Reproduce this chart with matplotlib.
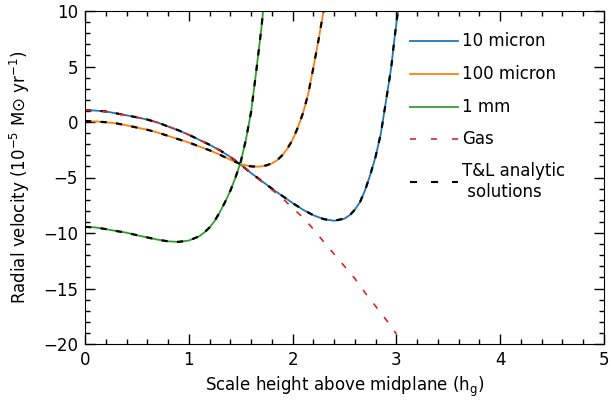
import matplotlib
matplotlib.use('Agg')
import matplotlib.pyplot as plt
from matplotlib.lines import Line2D
import numpy as np

# values
x_10um = [0, 0.1, 0.2, 0.3, 0.4, 0.5, 0.6, 0.7, 0.8, 0.9, 1.0, 1.1, 1.2, 1.3, 1.4, 1.5, 1.6, 1.7,
          1.8, 1.9, 2.0, 2.1, 2.2, 2.3, 2.4, 2.5, 2.55, 2.6, 2.65, 2.7, 2.75, 2.8, 2.85, 2.9, 2.95,
          2.98, 3.0, 3.02]
v_10um = [1.05, 1.03, 0.95, 0.78, 0.6, 0.42, 0.22, -0.05, -0.4, -0.75, -1.15, -1.6, -2.05, -2.55,
          -3.15, -3.85, -4.6, -5.3, -6.0, -6.65, -7.3, -7.9, -8.4, -8.75, -8.9, -8.7, -8.4, -7.9,
          -7.2, -6.1, -4.7, -3.1, -1.05, 1.9, 4.9, 7.4, 8.9, 10.4]

x_100um = [0, 0.1, 0.2, 0.3, 0.4, 0.5, 0.6, 0.7, 0.8, 0.9, 1.0, 1.1, 1.2, 1.3, 1.4, 1.5, 1.6, 1.65,
           1.7, 1.75, 1.8, 1.85, 1.9, 1.95, 2.0, 2.05, 2.1, 2.15, 2.2, 2.25, 2.3]
v_100um = [0.08, 0.05, -0.02, -0.12, -0.3, -0.5, -0.7, -0.95, -1.25, -1.55, -1.85, -2.2, -2.55,
           -2.95, -3.4, -3.8, -4.0, -4.02, -4.0, -3.9, -3.73, -3.45, -3.0, -2.4, -1.6, -0.5, 0.8,
           2.5, 4.9, 7.4, 10.1]

x_1mm = [0, 0.1, 0.2, 0.3, 0.4, 0.5, 0.6, 0.7, 0.8, 0.9, 1.0, 1.1, 1.15, 1.2, 1.25, 1.3, 1.35,
         1.4, 1.45, 1.5, 1.55, 1.6, 1.65, 1.7, 1.72]
v_1mm = [-9.45, -9.5, -9.65, -9.82, -9.97, -10.2, -10.4, -10.6, -10.75, -10.8, -10.68, -10.3,
         -9.95, -9.5, -8.9, -8.1, -7.2, -6.2, -5.0, -3.6, -1.6, 0.9, 4.6, 8.5, 10.4]

x_gas = [0, 0.1, 0.2, 0.3, 0.4, 0.5, 0.6, 0.7, 0.8, 0.9, 1.0, 1.1, 1.2, 1.3, 1.4, 1.5, 1.6, 1.7,
         1.8, 1.9, 2.0, 2.1, 2.2, 2.3, 2.4, 2.5, 2.6, 2.7, 2.8, 2.9, 3.0]
v_gas = [1.05, 1.03, 0.95, 0.78, 0.6, 0.42, 0.22, -0.05, -0.4, -0.75, -1.15, -1.6, -2.05, -2.55,
         -3.15, -3.85, -4.6, -5.35, -6.1, -6.85, -7.75, -8.6, -9.65, -10.8, -11.9, -13.0, -14.1,
         -15.4, -16.6, -17.8, -19.1]

labels = ['10 micron', '100 micron', '1 mm', 'Gas', 'T&L analytic\n solutions']
colors = ['#1f77b4', '#ff7f0e', '#2ca02c', '#d62728', 'black']

plt.rcParams['font.family'] = 'DejaVu Sans'
fig = plt.figure(figsize=(6.11, 4.0), dpi=100)
ax = fig.add_axes([85/611, 1-344/400, 519/611, 333/400])

ax.plot(x_10um, v_10um, color=colors[0], lw=1.3)
ax.plot(x_100um, v_100um, color=colors[1], lw=1.3)
ax.plot(x_1mm, v_1mm, color=colors[2], lw=1.3)
for xs, vs in [(x_10um, v_10um), (x_100um, v_100um), (x_1mm, v_1mm)]:
    ax.plot(xs, vs, color='black', lw=1.6, dashes=(2.8, 4.2))
ax.plot(x_gas, v_gas, color=colors[3], lw=1.2, dashes=(3.8, 6.5))

ax.set_xlim(0, 5)
ax.set_ylim(-20, 10)
ax.set_xticks([0, 1, 2, 3, 4, 5])
ax.set_yticks([-20, -15, -10, -5, 0, 5, 10])
ax.set_xticks(np.arange(0, 5.01, 0.2), minor=True)
ax.set_yticks(np.arange(-20, 10.01, 1), minor=True)
ax.tick_params(which='both', direction='in', top=True, right=True, labelsize=12, width=1)
ax.tick_params(which='major', length=7, pad=5)
ax.tick_params(which='minor', length=3.5)
ax.set_xticklabels(['0', '1', '2', '3', '4', '5'])
ax.set_yticklabels(['\u221220', '\u221215', '\u221210', '\u22125', '0', '5', '10'])
ax.set_xlabel('Scale height above midplane (h$_\\mathregular{g}$)', fontsize=12, labelpad=4)
ax.set_ylabel('Radial velocity (10$^{\\mathregular{-5}}$ M$\\odot$ yr$^{\\mathregular{-1}}$)',
              fontsize=12, labelpad=8)

# legend drawn by hand to keep the indented two-line entry
leg_y = [0.911, 0.811, 0.713, 0.615, 0.487]
for i, lab in enumerate(labels):
    if i < 3:
        ax.add_line(Line2D([0.627, 0.719], [leg_y[i]] * 2, transform=ax.transAxes,
                           color=colors[i], lw=1.3))
    elif i == 3:
        ax.add_line(Line2D([0.627, 0.719], [leg_y[i]] * 2, transform=ax.transAxes,
                           color=colors[i], lw=1.2, dashes=(3.6, 9.0)))
    else:
        ax.add_line(Line2D([0.627, 0.719], [leg_y[i]] * 2, transform=ax.transAxes,
                           color=colors[i], lw=1.5, dashes=(3.4, 6.7)))
    ax.text(0.727, leg_y[i], lab, transform=ax.transAxes, fontsize=12,
            va='center', ha='left', multialignment='left')

fig.savefig('out.png', dpi=100)
